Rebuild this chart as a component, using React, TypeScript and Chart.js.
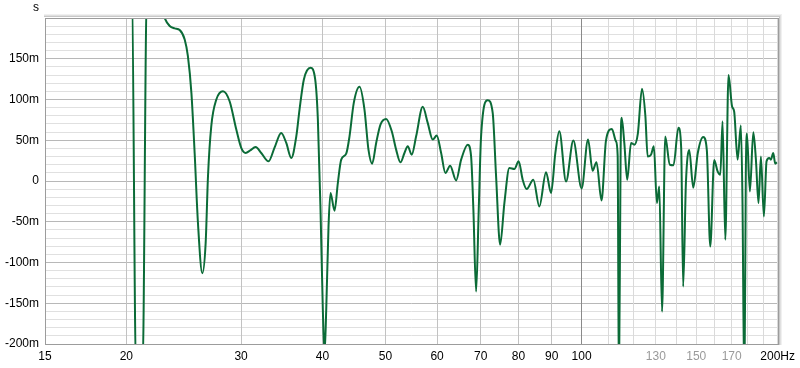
import React, { useEffect, useRef } from "react";
import { Chart, registerables } from "chart.js";

Chart.register(...registerables);

// Frequencies (Hz) and group delay (ms)
const FREQ_HZ = [
  15, 20.4, 20.69, 21.18, 21.5, 22.4, 22.9, 23.31, 23.73, 24.15, 24.58, 24.86, 25.17, 25.46, 25.76,
  26.16, 26.47, 26.69, 27.0, 27.49, 28.14, 28.81, 29.5, 30.02, 30.49, 30.99, 31.58, 32.22, 33.06,
  33.77, 34.58, 35.2, 35.83, 36.47, 36.89, 37.46, 38.35, 38.99, 39.36, 39.73, 40.06, 40.3, 40.54,
  40.87, 41.16, 41.75, 42.24, 42.75, 43.51, 44.02, 44.69, 45.6, 46.41, 47.07, 47.69, 48.37, 49.11,
  50.11, 51.11, 51.91, 52.71, 53.46, 54.08, 54.85, 55.71, 57.03, 58.04, 59.08, 59.92, 60.86, 61.79,
  62.83, 64.17, 65.32, 66.86, 67.66, 68.21, 68.87, 69.51, 70.09, 71.75, 73.03, 73.91, 74.97, 76.11,
  77.47, 78.85, 80.05, 81.2, 82.35, 84.32, 86.12, 88.19, 89.76, 91.14, 92.43, 94.65, 97.12, 100.0,
  102.3, 103.97, 105.4, 107.3, 109.0, 111.3, 112.9, 113.6, 114.1, 114.8, 115.2, 116.3, 117.5, 119.1,
  120.5, 122.0, 123.8, 125.3, 126.3, 127.8, 129.1, 130.5, 131.6, 132.9, 134.4, 136.6, 138.4, 140.8,
  142.2, 143.2, 144.6, 146.3, 148.4, 150.8, 153.7, 155.7, 157.6, 159.8, 161.8, 163.3, 164.6, 166.2,
  168.1, 170.2, 171.5, 173.6, 175.6, 176.6, 177.8, 178.7, 179.4, 181.3, 183.5, 185.2, 186.9, 188.5,
  190.5, 192.3, 194.1, 195.3, 196.9, 198.3, 199.5,
];

const DELAY_MS = [
  250, 230, -230, -230, 230, 225, 200, 190.1, 187.3, 185.2, 173.7, 153.2, 108.2, 34.4, -51.6,
  -113.1, -76.2, 5.7, 67.1, 100.0, 110.2, 97.9, 63.1, 40.6, 34.4, 37.6, 41.8, 34.4, 24.1,
  40.9, 59.0, 46.7, 28.3, 54.8, 87.7, 124.6, 138.9, 124.6, 75.4, -35.3, -158.3, -212, -158.3,
  -55.8, -14.8, -36.5, -2.5, 26.2, 33.6, 54.8, 95.9, 115.6, 87.7, 38.5, 21.3, 46.7, 69.2,
  76.2, 61.0, 38.5, 22.9, 34.4, 42.5, 32.3, 54.8, 91.0, 71.3, 50.8, 55.7, 34.4, 9.8,
  18.8, 0.7, 26.2, 44.6, 30.2, -35.3, -135.7, -35.3, 54.8, 99.1, 83.6, 5.7, -78.3, -27.1,
  16.0, 14.8, 24.1, 1.6, -9.8, 1.6, -31.2, 10.6, -14.8, 34.4, 61.0, -0.5, 49.6, -9.1,
  50.8, 12.7, 23.1, -23.9, 49.6, 63.9, 48.9, 31.1, -260, 38.5, 77.5, 46.7, 1.6, 46.7,
  44.6, 58.2, 113.2, 79.4, 30.2, 32.3, 42.5, -27.1, -6.6, -160.3, 54.5, 20.0, 19.4, 65.2,
  40.6, -129.6, -2.5, 37.9, -8.2, 34.4, 53.9, 37.9, -80.4, 25.8, 11.4, 7.7, 73.3, -72.2,
  130.1, 91.7, 85.2, 26.2, 68.2, -23.0, -260, 7.6, 58.2, -12.8, 59.8, 26.2, -27.1, 30.2,
  -43.5, 24.1, 28.3, 26.2, 34.4, 21.3, 22.9,
];

const X_MIN = 15;
const X_MAX = 200;
const X_GRID = [15, 20, 30, 40, 50, 60, 70, 80, 90, 100, 110, 120, 130, 140, 150, 160, 170, 180, 190, 200];
const X_LABELS: Record<number, string> = {
  15: "15", 20: "20", 30: "30", 40: "40", 50: "50", 60: "60", 70: "70", 80: "80", 90: "90",
  100: "100", 130: "130", 150: "150", 170: "170", 200: "200Hz",
};
const X_LIGHT_LABELS = [130, 150, 170];

const Y_MIN = -200;
const Y_MAX = 200;
const Y_MINOR_STEP = 10;
const Y_MAJOR_STEP = 50;
const UNIT_LABEL = "s";

const FONT = '"Liberation Sans", Arial, sans-serif';
const LINE_COLOR = "#0b6b37";

const framePlugin = {
  id: "frame",
  afterDraw(chart: any) {
    const { ctx, chartArea: a } = chart;
    const l = Math.round(a.left);
    const t = Math.round(a.top);
    const r = Math.round(a.right);
    const b = Math.round(a.bottom);
    ctx.save();
    const shades = ["rgba(0,0,0,0.22)", "rgba(0,0,0,0.12)", "rgba(0,0,0,0.06)"];
    shades.forEach((c, i) => {
      ctx.strokeStyle = c;
      ctx.lineWidth = 1;
      ctx.beginPath();
      ctx.moveTo(l - 1, t - 1.5 - i);
      ctx.lineTo(r + 2 + i, t - 1.5 - i);
      ctx.moveTo(r + 1.5 + i, t - 1 - i);
      ctx.lineTo(r + 1.5 + i, b + 1);
      ctx.stroke();
    });
    ctx.strokeStyle = "#9c9c9c";
    ctx.lineWidth = 1;
    ctx.strokeRect(l + 0.5, t + 0.5, r - l, b - t);
    ctx.fillStyle = "#000";
    ctx.font = `12px ${FONT}`;
    ctx.textAlign = "center";
    ctx.textBaseline = "middle";
    ctx.fillText(UNIT_LABEL, 36, 8);
    ctx.restore();
  },
};

export default function App() {
  const canvasRef = useRef<HTMLCanvasElement | null>(null);

  useEffect(() => {
    document.body.style.margin = "0";
    const canvas = canvasRef.current;
    if (!canvas) return;
    const data = FREQ_HZ.map((f, i) => ({ x: f, y: DELAY_MS[i] }));
    const chart = new Chart(canvas, {
      type: "line",
      data: {
        datasets: [
          {
            data,
            borderColor: LINE_COLOR,
            borderWidth: 2,
            pointRadius: 0,
            fill: false,
            cubicInterpolationMode: "monotone",
          },
        ],
      },
      options: {
        animation: false,
        responsive: false,
        devicePixelRatio: 1,
        layout: { padding: { top: 18, right: 21.5, left: 0, bottom: 0 } },
        plugins: { legend: { display: false }, tooltip: { enabled: false } },
        scales: {
          x: {
            type: "logarithmic",
            min: X_MIN,
            max: X_MAX,
            afterBuildTicks: (scale: any) => {
              scale.ticks = X_GRID.map((v) => ({ value: v }));
            },
            afterFit: (scale: any) => {
              scale.height = 24;
            },
            border: { display: false },
            grid: {
              z: -1,
              drawTicks: false,
              lineWidth: 1,
              color: (ctx: any) => {
                const v = ctx.tick ? ctx.tick.value : 0;
                if (v === 100) return "#8a8a8a";
                if (v > 100) return "#dadada";
                return "#c2c2c2";
              },
            },
            ticks: {
              autoSkip: false,
              maxRotation: 0,
              minRotation: 0,
              padding: 5,
              font: { family: FONT, size: 12 },
              color: (ctx: any) => {
                const v = ctx.tick ? ctx.tick.value : 0;
                return X_LIGHT_LABELS.includes(v) ? "#9a9a9a" : "#000";
              },
              callback: (value: any) => X_LABELS[Number(value)] ?? "",
            },
          },
          y: {
            type: "linear",
            min: Y_MIN,
            max: Y_MAX,
            afterBuildTicks: (scale: any) => {
              const ticks = [];
              for (let v = Y_MIN; v <= Y_MAX; v += Y_MINOR_STEP) ticks.push({ value: v });
              scale.ticks = ticks;
            },
            afterFit: (scale: any) => {
              scale.width = 45;
            },
            border: { display: false },
            grid: {
              z: -2,
              drawTicks: false,
              lineWidth: 1,
              color: (ctx: any) => {
                const v = ctx.tick ? ctx.tick.value : 0;
                return v % Y_MAJOR_STEP === 0 ? "#b8b8b8" : "#e0e0e0";
              },
            },
            ticks: {
              autoSkip: false,
              padding: 6,
              font: { family: FONT, size: 12 },
              color: "#000",
              callback: (value: any) => {
                const v = Number(value);
                if (v % Y_MAJOR_STEP !== 0 || v === Y_MAX) return "";
                return v === 0 ? "0" : `${v}m`;
              },
            },
          },
        },
      },
      plugins: [framePlugin],
    });
    return () => chart.destroy();
  }, []);

  return (
    <div style={{ position: "absolute", left: 0, top: 0, width: 800, height: 368, background: "#fff" }}>
      <canvas ref={canvasRef} width={800} height={368} style={{ display: "block" }} />
    </div>
  );
}
